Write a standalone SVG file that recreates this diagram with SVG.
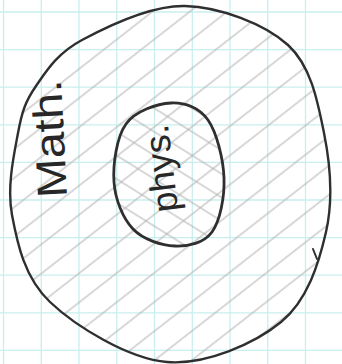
<svg xmlns="http://www.w3.org/2000/svg" width="342" height="364" viewBox="0 0 342 364">
<style>
.grid line{stroke:#c8efee;stroke-width:1.3}
.outline{fill:none;stroke:#2f2f2f;stroke-linecap:round;stroke-linejoin:round}
.label{font-family:"Liberation Sans",Arial,sans-serif;fill:#272727;text-anchor:middle}
.hl{stroke:#b0b0b0;stroke-width:1}
</style>
<defs>
<pattern id="hatchA" patternUnits="userSpaceOnUse" width="60" height="23" patternTransform="rotate(-38)">
<line class="hl" x1="0" y1="11" x2="60" y2="11"/>
</pattern>
<pattern id="hatchB" patternUnits="userSpaceOnUse" width="60" height="20" patternTransform="rotate(32)">
<line class="hl" x1="0" y1="10" x2="60" y2="10"/>
</pattern>
</defs>
<rect width="342" height="364" fill="#ffffff"/>
<g class="grid">
<line x1="3.5" y1="0" x2="3.5" y2="364"/>
<line x1="41.3" y1="0" x2="41.3" y2="364"/>
<line x1="79" y1="0" x2="79" y2="364"/>
<line x1="116.8" y1="0" x2="116.8" y2="364"/>
<line x1="154.5" y1="0" x2="154.5" y2="364"/>
<line x1="192.3" y1="0" x2="192.3" y2="364"/>
<line x1="230" y1="0" x2="230" y2="364"/>
<line x1="267.8" y1="0" x2="267.8" y2="364"/>
<line x1="305.5" y1="0" x2="305.5" y2="364"/>
<line x1="0" y1="12" x2="342" y2="12"/>
<line x1="0" y1="49.6" x2="342" y2="49.6"/>
<line x1="0" y1="87.2" x2="342" y2="87.2"/>
<line x1="0" y1="124.8" x2="342" y2="124.8"/>
<line x1="0" y1="162.4" x2="342" y2="162.4"/>
<line x1="0" y1="200" x2="342" y2="200"/>
<line x1="0" y1="237.6" x2="342" y2="237.6"/>
<line x1="0" y1="275.2" x2="342" y2="275.2"/>
<line x1="0" y1="312.8" x2="342" y2="312.8"/>
<line x1="0" y1="350.4" x2="342" y2="350.4"/>
</g>
<g id="math">
<path fill="url(#hatchA)" d="M185,6 C219.3,6.8 264.8,23.8 288,45 C311.2,66.2 317.7,101.8 324,133 C330.3,164.2 333.2,200.5 326,232 C318.8,263.5 307.5,300.3 281,322 C254.5,343.7 205.5,365.3 167,362 C128.5,358.7 75.8,326.5 50,302 C24.2,277.5 17.3,243.2 12,215 C6.7,186.8 14,154.5 18,133 C22,111.5 25.3,101.5 36,86 C46.7,70.5 57.2,53.3 82,40 C106.8,26.7 150.7,5.2 185,6 Z"/>
<path class="outline" stroke-width="2.4" d="M185,6 C219.3,6.8 264.8,23.8 288,45 C311.2,66.2 317.7,101.8 324,133 C330.3,164.2 333.2,200.5 326,232 C318.8,263.5 307.5,300.3 281,322 C254.5,343.7 205.5,365.3 167,362 C128.5,358.7 75.8,326.5 50,302 C24.2,277.5 17.3,243.2 12,215 C6.7,186.8 14,154.5 18,133 C22,111.5 25.3,101.5 36,86 C46.7,70.5 57.2,53.3 82,40 C106.8,26.7 150.7,5.2 185,6 Z"/>
<path class="outline" stroke-width="2" d="M313,249 L317,259"/>
<text class="label" font-size="42" textLength="118" lengthAdjust="spacingAndGlyphs" transform="translate(64,138) rotate(-93)" x="0" y="0">Math.</text>
</g>
<g id="phys">
<path fill="url(#hatchB)" d="M171,103 C184.7,102.3 199.2,107.5 208,120 C216.8,132.5 223.3,159.3 224,178 C224.7,196.7 220.2,220.7 212,232 C203.8,243.3 188.2,246.5 175,246 C161.8,245.5 143.2,239.7 133,229 C122.8,218.3 115.2,199.5 114,182 C112.8,164.5 116.5,137.2 126,124 C135.5,110.8 157.3,103.7 171,103 Z"/>
<path class="outline" stroke-width="2.8" d="M171,103 C184.7,102.3 199.2,107.5 208,120 C216.8,132.5 223.3,159.3 224,178 C224.7,196.7 220.2,220.7 212,232 C203.8,243.3 188.2,246.5 175,246 C161.8,245.5 143.2,239.7 133,229 C122.8,218.3 115.2,199.5 114,182 C112.8,164.5 116.5,137.2 126,124 C135.5,110.8 157.3,103.7 171,103 Z"/>
<text class="label" font-size="36" textLength="88" lengthAdjust="spacingAndGlyphs" transform="translate(173,167) rotate(-97)" x="0" y="0">phys.</text>
</g>
<g id="connectors"/>
</svg>
